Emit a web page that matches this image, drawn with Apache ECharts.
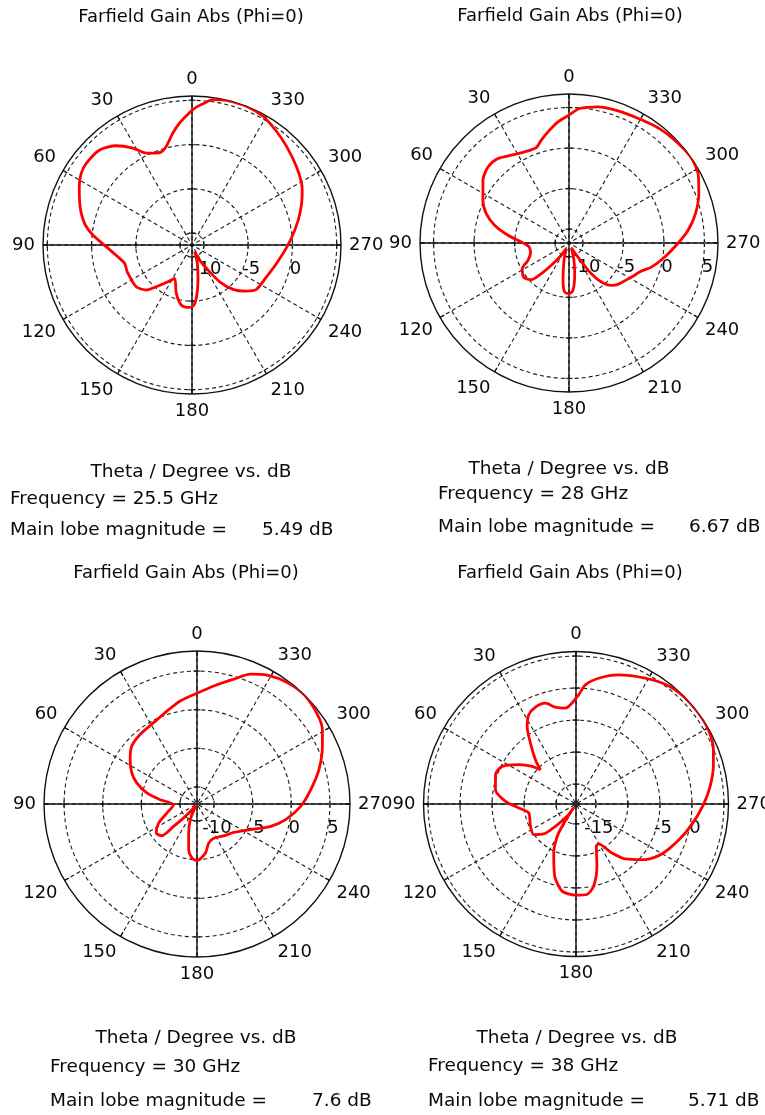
<!DOCTYPE html>
<html>
<head>
<meta charset="utf-8">
<script src="https://cdn.jsdelivr.net/npm/echarts@6/dist/echarts.min.js"></script>
<style>
html,body{margin:0;padding:0;background:#fff}
#c{width:765px;height:1115px}
</style>
</head>
<body>
<div id="c"></div>
<script>
// ---------------- DATA ----------------
// Theta in degrees (0 at top, counter-clockwise), gain in dB
const theta1 = [0,5.8,9.7,14.6,17.8,21.3,26.5,31.4,37.4,44.2,52.3,57.1,62.6,71.1,78.6,84.2,91.1,99,105.2,113,126.8,134.6,139.4,146.8,152.5,162,170,176.3,181,184.6,189.7,196.2,201.8,207,212.6,217,222.8,229.7,235.4,246.9,257.7,269,278.3,286.4,295.2,299.4,306.9,316.2,323.3,331,338,346.6,351.8,355.5,358.2];
const gain1  = [3.87,2.51,1.49,0.17,-0.25,-0.21,0.25,1.49,2.77,3.64,3.75,3.57,3.0,2.02,1.04,-0.08,-1.64,-2.85,-3.45,-3.42,-3.47,-4.1,-5.13,-6.38,-7.09,-5.6,-4.43,-4.27,-4.43,-5.28,-7.32,-9.19,-10.53,-9.43,-7.98,-6.14,-4.51,-3.28,-2.5,-2.19,-1.57,-0.6,0.4,1.37,2.42,2.87,3.41,4.09,4.65,5.26,5.49,5.45,5.25,4.66,4.24];

const theta2 = [0,355.5,348,339.6,329.8,321.5,313.3,305.1,298.3,290.8,283.1,276.1,270,261.7,253.7,248.8,241.4,229.8,225,219.7,216.1,214.1,211,206,196,190.5,184.8,180,174.9,170.9,163.9,154.8,146.3,141.6,137.9,134.2,127.6,118.8,112.9,103.2,94.7,88.8,82.8,76.6,70.5,63.6,53.9,46.8,40.1,33.3,26,18.9,15.1,10.7,5.2];
const gain2  = [4.06,4.93,5.46,5.67,5.91,6.28,6.49,6.67,6.37,5.42,4.31,3.07,1.76,0.23,-1.12,-2.12,-2.93,-3.8,-4.31,-5.45,-7.02,-8.62,-10.3,-11.0,-9.5,-7.85,-5.84,-5.45,-5.63,-7.03,-9.48,-10.93,-9.62,-8.19,-6.6,-5.21,-4.69,-5.12,-6.21,-6.84,-6.7,-5.82,-4.11,-2.27,-0.88,0.15,1.43,2.0,1.91,1.25,0.8,0.74,1.43,2.25,3.3];

const theta3 = [0,9.2,17.9,28.1,39.3,48.4,56.4,64.5,70.7,77.6,83.3,91.6,106.7,116.4,125.5,132.1,133.7,136.6,140,146,157,164,169.7,174.7,180,189.7,196.7,206.1,220.1,232.3,246.2,253.1,260,268.7,277.2,285.8,294.8,300.7,306.7,315.3,323.4,331.4,337.6,343.6,351.9];
const gain3  = [2.13,1.31,0.44,-0.27,-0.57,-0.91,-1.81,-2.85,-3.94,-5.55,-7.4,-9.17,-8.13,-6.65,-5.72,-6.07,-8.0,-10.0,-11.5,-12.0,-10,-8.28,-6.17,-5.16,-4.88,-5.75,-6.92,-7.28,-6.82,-6.18,-4.16,-2.24,-0.55,1.22,2.64,4.21,5.68,6.67,7.23,7.6,7.38,6.78,5.97,4.64,3.23];

const theta4 = [0,6.3,12,16.9,22.7,27.9,32.2,36.8,42.5,46.1,49.4,55.5,63,70,79.9,87.8,94,100.8,116.1,125.9,132.9,137.2,143.9,146.5,149,155.5,163.6,170.9,179.6,186.9,192.1,198.6,205.7,209.5,216.3,221.9,231.2,239.8,250.5,259.9,269.7,277.5,285.3,291.5,299.3,307,314.6,322,331.2,341.7,349.8,355.5,358.6];
const gain4  = [-1.58,-3.05,-2.65,-1.65,-1.71,-2.34,-3.79,-6.22,-8.72,-10.39,-9.07,-7.26,-5.16,-4.72,-5.33,-7.09,-9.14,-10.59,-10.18,-9.95,-11.23,-13.36,-15.72,-17.5,-12.83,-9.71,-6.35,-4.32,-3.87,-3.87,-4.98,-7.85,-10.78,-10.93,-8.62,-6.59,-4.24,-2.6,-1.13,0.26,1.8,3.02,4.13,4.96,5.59,5.71,5.65,5.33,4.31,3.13,1.85,0.55,-1.06];

// radial scale per plot (centre value, outer value) in dB
const radialMin = [-11.34, -11.7, -12.2, -18.1];
const radialMax = [5.49, 6.67, 7.6, 5.71];
// dashed rings and radial tick labels (dB)
const rings1 = [-10,-5,0,5];      const ringLabels1 = [-10,-5,0];
const rings2 = [-10,-5,0,5];      const ringLabels2 = [-10,-5,0,5];
const rings3 = [-10,-5,0,5];      const ringLabels3 = [-10,-5,0,5];
const rings4 = [-15,-10,-5,0,5];  const ringLabels4 = [-15,-5,0];

const frequencies = ['25.5', '28', '30', '38'];
const mainLobes   = ['5.49', '6.67', '7.6', '5.71'];
const titleText = 'Farfield Gain Abs (Phi=0)';
const xAxisText = 'Theta / Degree vs. dB';

// ---------------- LAYOUT ----------------
const thetas = [theta1, theta2, theta3, theta4];
const gains = [gain1, gain2, gain3, gain4];
const ringsAll = [rings1, rings2, rings3, rings4];
const ringLabelsAll = [ringLabels1, ringLabels2, ringLabels3, ringLabels4];

const layout = [
  {center:[192,245], radius:149, title:[191,17], xt:[191,472], freq:[10,499], main:[10,530], val:[262,530]},
  {center:[569,243], radius:149, title:[570,16], xt:[569,469], freq:[438,494], main:[438,527], val:[689,527]},
  {center:[197,804], radius:153, title:[186,573], xt:[196,1038], freq:[50,1067], main:[50,1101], val:[312,1101]},
  {center:[576,804], radius:152.5, title:[570,573], xt:[577,1038], freq:[428,1066], main:[428,1101], val:[688,1101]}
];

const FONT = 'DejaVu Sans';
const TXT = '#0a0a0a';
const GRID = '#1c1c1c';

const polar = [], angleAxis = [], radiusAxis = [], series = [], graphic = [];

layout.forEach((L, i) => {
  polar.push({center: L.center, radius: L.radius});
  angleAxis.push({
    polarIndex: i, type: 'value', min: 0, max: 360, interval: 30,
    startAngle: 90, clockwise: false,
    axisLine: {show: true, lineStyle: {color: '#111', width: 1.4}},
    axisTick: {show: true, inside: true, length: 5, lineStyle: {color: '#111', width: 1.3}},
    axisLabel: {show: true, margin: 8, color: TXT, fontSize: 18, fontFamily: FONT},
    splitLine: {show: true, lineStyle: {color: GRID, width: 1.1, type: [4, 3]}}
  });
  radiusAxis.push({
    polarIndex: i, type: 'value', min: radialMin[i], max: radialMax[i],
    axisLine: {show: false},
    axisLabel: {show: false},
    axisTick: {show: false, customValues: ringsAll[i]},
    splitLine: {show: true, lineStyle: {color: GRID, width: 1.1, type: [4, 3]}}
  });

  const rMax = radialMax[i];
  // solid cross axes
  [[0, 180], [90, 270]].forEach(pair => {
    series.push({
      type: 'line', coordinateSystem: 'polar', polarIndex: i, silent: true,
      symbol: 'none', z: 2,
      lineStyle: {color: '#111', width: 1.4},
      data: pair.map(a => [rMax, a])
    });
  });
  // small ticks on the cross axes at each ring
  series.push({
    type: 'scatter', coordinateSystem: 'polar', polarIndex: i, silent: true, z: 2,
    symbol: 'rect', symbolSize: [7, 1.4], itemStyle: {color: '#111'},
    data: ringsAll[i].flatMap(v => [[v, 0], [v, 180]])
  });
  series.push({
    type: 'scatter', coordinateSystem: 'polar', polarIndex: i, silent: true, z: 2,
    symbol: 'rect', symbolSize: [1.4, 7], itemStyle: {color: '#111'},
    data: ringsAll[i].flatMap(v => [[v, 90], [v, 270]])
  });
  // radial tick labels along the 270 direction
  series.push({
    type: 'scatter', coordinateSystem: 'polar', polarIndex: i, silent: true, z: 3,
    symbolSize: 1, itemStyle: {color: '#ffffff', opacity: 1},
    label: {show: true, position: 'inside', offset: [3, 24], color: TXT, opacity: 1,
            fontSize: 18, fontFamily: FONT, textBorderWidth: 0,
            formatter: p => String(p.value[0])},
    data: ringLabelsAll[i].map(v => [v, 270])
  });
  // the pattern curve
  const t = thetas[i], g = gains[i];
  const pts = t.map((a, k) => [g[k], a]);
  pts.push([g[0], t[0]]);
  series.push({
    type: 'line', coordinateSystem: 'polar', polarIndex: i, z: 5,
    symbol: 'none', smooth: 0.25,
    lineStyle: {color: '#ff0000', width: 2.8},
    data: pts
  });

  // texts
  const txt = (x, y, text, size, align) => ({
    type: 'text', x: x, y: y, silent: true, z: 10,
    style: {text: text, font: size + 'px "' + FONT + '"', fill: TXT,
            align: align, textAlign: align, verticalAlign: 'middle', textVerticalAlign: 'middle'}
  });
  graphic.push(txt(L.title[0], L.title[1], titleText, 18, 'center'));
  graphic.push(txt(L.xt[0], L.xt[1], xAxisText, 18.5, 'center'));
  graphic.push(txt(L.freq[0], L.freq[1], 'Frequency = ' + frequencies[i] + ' GHz', 18.5, 'left'));
  graphic.push(txt(L.main[0], L.main[1], 'Main lobe magnitude =', 18.5, 'left'));
  graphic.push(txt(L.val[0], L.val[1], mainLobes[i] + ' dB', 18.5, 'left'));
});

const chart = echarts.init(document.getElementById('c'), null, {renderer: 'canvas'});
chart.setOption({
  backgroundColor: '#ffffff',
  animation: false,
  polar: polar,
  angleAxis: angleAxis,
  radiusAxis: radiusAxis,
  series: series,
  graphic: graphic
});
</script>
</body>
</html>
